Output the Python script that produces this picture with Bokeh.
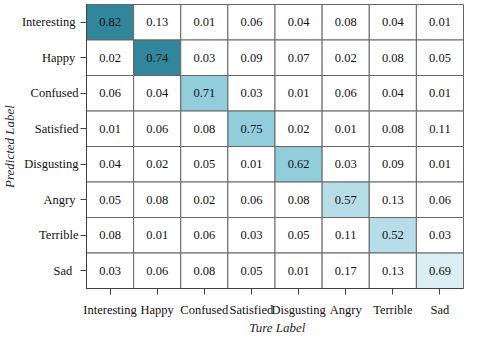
import math
from bokeh.plotting import figure
from bokeh.models import ColumnDataSource, Range1d, FixedTicker
from bokeh.embed import file_html
from bokeh.resources import INLINE

labels = ["Interesting", "Happy", "Confused", "Satisfied", "Disgusting", "Angry", "Terrible", "Sad"]

row_interesting = [0.82, 0.13, 0.01, 0.06, 0.04, 0.08, 0.04, 0.01]
row_happy       = [0.02, 0.74, 0.03, 0.09, 0.07, 0.02, 0.08, 0.05]
row_confused    = [0.06, 0.04, 0.71, 0.03, 0.01, 0.06, 0.04, 0.01]
row_satisfied   = [0.01, 0.06, 0.08, 0.75, 0.02, 0.01, 0.08, 0.11]
row_disgusting  = [0.04, 0.02, 0.05, 0.01, 0.62, 0.03, 0.09, 0.01]
row_angry       = [0.05, 0.08, 0.02, 0.06, 0.08, 0.57, 0.13, 0.06]
row_terrible    = [0.08, 0.01, 0.06, 0.03, 0.05, 0.11, 0.52, 0.03]
row_sad         = [0.03, 0.06, 0.08, 0.05, 0.01, 0.17, 0.13, 0.69]
matrix = [row_interesting, row_happy, row_confused, row_satisfied,
          row_disgusting, row_angry, row_terrible, row_sad]

y_tick_text = ["Interesting\u00a0", "Happy\u00a0", "Confused", "Satisfied", "Disgusting",
               "Angry\u00a0", "Terrible", "Sad\u00a0\u00a0"]
x_title = "Ture Label"
y_title = "Predicted Label"

diag_shades = ["#31869B", "#31869B", "#92CDDC", "#92CDDC", "#92CDDC", "#B7DEE8", "#B7DEE8", "#DAEEF3"]

n = len(labels)
col_pos = [j + 0.5 for j in range(n)]          # true label j -> column centre
row_pos = [n - 0.5 - i for i in range(n)]      # predicted label i -> row centre (top to bottom)

xs, ys, txt, fills = [], [], [], []
for i in range(n):
    for j in range(n):
        xs.append(col_pos[j])
        ys.append(row_pos[i])
        txt.append(f"{matrix[i][j]:.2f}")
        fills.append(diag_shades[i] if i == j else "#FFFFFF")

src = ColumnDataSource(dict(x=xs, y=ys, t=txt, c=fills))

FONT = "Times New Roman, Liberation Serif, serif"

p = figure(width=464, height=334, output_backend="svg", toolbar_location=None,
           x_range=Range1d(-1.825, n + 0.021),
           y_range=Range1d(-1.295, n + 0.113),
           min_border_top=0, min_border_right=0, min_border_left=0, min_border_bottom=0)

p.rect(x="x", y="y", width=1, height=1, source=src, fill_color="c",
       line_color="#666666", line_width=1)
p.text(x="x", y="y", text="t", source=src, text_align="center", text_baseline="middle",
       text_font={"value": FONT}, text_font_size="12.5px", text_color="#111111")

# axis titles
p.text(x=[n / 2 + 0.05], y=[-1.1], text=[x_title], text_align="center", text_baseline="middle",
       text_font={"value": FONT}, text_font_size="13px", text_font_style="italic",
       text_color="#262626")
p.text(x=[-1.64], y=[n / 2], text=[y_title], angle=math.pi / 2, text_align="center",
       text_baseline="middle", text_font={"value": FONT}, text_font_size="13px",
       text_font_style="italic", text_color="#262626")

p.outline_line_color = None
p.grid.visible = False
p.background_fill_color = "white"
p.border_fill_color = "white"

for ax in (p.xaxis[0], p.yaxis[0]):
    ax.fixed_location = 0
    ax.bounds = (0, n)
    ax.major_label_text_font = FONT
    ax.major_label_text_font_size = "12.5px"
    ax.major_label_text_color = "#111111"
    ax.axis_line_color = "#404040"
    ax.major_tick_line_color = "#404040"
    ax.major_tick_in = 0
    ax.major_tick_out = 6
    ax.minor_tick_line_color = None

xax = p.xaxis[0]
xax.ticker = FixedTicker(ticks=col_pos)
xax.major_label_overrides = {col_pos[j]: labels[j] for j in range(n)}
xax.major_label_standoff = 8

yax = p.yaxis[0]
yax.ticker = FixedTicker(ticks=row_pos)
yax.major_label_overrides = {row_pos[i]: y_tick_text[i] for i in range(n)}
yax.major_label_standoff = 2

open("out.html", "w").write(file_html(p, INLINE))
